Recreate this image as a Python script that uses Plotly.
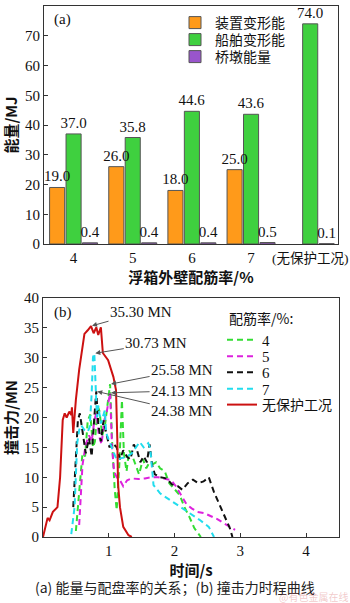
import plotly.graph_objects as go
import numpy as np

# ---------------- data (a) ----------------
categories = ["4", "5", "6", "7", "(无保护工况)"]
device_energy = [19.0, 26.0, 18.0, 25.0, None]
ship_energy = [37.0, 35.8, 44.6, 43.6, 74.0]
pier_energy = [0.4, 0.4, 0.4, 0.5, 0.1]

# ---------------- data (b) ----------------
t_red = [0, 0.05, 0.07, 0.10, 0.15, 0.22, 0.26, 0.30, 0.33, 0.36, 0.40, 0.43, 0.44, 0.46, 0.50,
         0.55, 0.61, 0.63, 0.68, 0.73, 0.77, 0.81, 0.84, 0.88, 0.91, 0.99, 1.07, 1.11, 1.13,
         1.14, 1.17, 1.22, 1.30, 1.35]
f_red = [0, 2.0, 3.2, 2.8, 4.2, 5.0, 10.0, 19.6, 20.7, 20.0, 21.0, 20.4, 21.7, 17.4, 23.0,
         28.0, 32.4, 34.0, 34.6, 35.3, 34.1, 35.1, 33.8, 35.1, 30.8, 29.6, 26.8, 24.6, 16.2,
         9.0, 5.0, 1.7, 0.3, 0]

t_cyan = [0.43, 0.48, 0.52, 0.55, 0.58, 0.63, 0.68, 0.71, 0.74, 0.76, 0.78, 0.80, 0.82, 0.84,
          0.88, 0.94, 0.96, 1.02, 1.07, 1.12, 1.19, 1.27, 1.35, 1.42, 1.47, 1.53, 1.60, 1.63,
          1.65, 1.68, 1.78, 1.93, 2.09, 2.24, 2.39, 2.52, 2.60]
f_cyan = [0.5, 5.0, 15.7, 17.9, 18.7, 17.9, 17.6, 18.4, 24.0, 30.1, 30.73, 24.0, 20.0, 22.0,
          19.0, 21.2, 17.4, 15.7, 14.2, 12.9, 13.2, 13.4, 14.0, 15.0, 15.9, 15.0, 15.7, 14.9,
          11.7, 8.7, 7.3, 6.2, 5.0, 4.0, 2.8, 1.7, 0]

t_black = [0.46, 0.50, 0.53, 0.56, 0.60, 0.65, 0.70, 0.74, 0.78, 0.81, 0.84, 0.88, 0.92, 0.97,
           1.01, 1.06, 1.12, 1.17, 1.22, 1.28, 1.33, 1.38, 1.43, 1.48, 1.53, 1.58, 1.62, 1.66,
           1.70, 1.78, 1.88, 1.96, 2.05, 2.12, 2.20, 2.28, 2.36, 2.44, 2.52, 2.60, 2.68, 2.76,
           2.84, 2.88]
f_black = [5.0, 14.0, 19.5, 20.7, 18.0, 14.0, 16.5, 13.5, 20.0, 24.38, 19.0, 16.0, 19.5, 17.0,
           15.0, 15.7, 15.0, 13.0, 14.5, 13.4, 13.0, 15.5, 14.5, 12.5, 13.5, 12.5, 15.5, 12.0,
           10.5, 10.0, 9.8, 8.8, 8.5, 7.9, 9.0, 9.6, 9.0, 9.3, 10.0, 7.5, 5.5, 3.5, 1.5, 0]

t_green = [0.50, 0.55, 0.60, 0.64, 0.68, 0.72, 0.76, 0.79, 0.83, 0.86, 0.90, 0.94, 0.98, 1.02,
           1.05, 1.09, 1.12, 1.16, 1.20, 1.23, 1.27, 1.31, 1.36, 1.41, 1.46, 1.52, 1.57, 1.62,
           1.67, 1.72, 1.78, 1.85, 1.92, 2.00, 2.08, 2.15, 2.22, 2.30, 2.36, 2.40]
f_green = [1.0, 8.0, 14.0, 13.5, 19.5, 20.5, 15.0, 16.0, 22.0, 21.0, 17.0, 18.5, 22.0, 25.58,
           16.0, 8.0, 4.5, 12.0, 22.9, 14.0, 11.0, 14.5, 13.5, 12.0, 10.5, 13.0, 11.5, 12.5,
           12.2, 12.5, 11.5, 11.0, 9.0, 8.0, 7.0, 5.0, 3.5, 1.5, 0.5, 0]

t_mag = [0.55, 0.60, 0.65, 0.70, 0.74, 0.78, 0.81, 0.85, 0.89, 0.93, 0.97, 1.02, 1.05, 1.08,
         1.12, 1.17, 1.22, 1.28, 1.35, 1.45, 1.55, 1.65, 1.75, 1.85, 1.95, 2.02, 2.10, 2.18,
         2.26, 2.35, 2.45, 2.55, 2.65, 2.75, 2.85, 2.92]
f_mag = [2.0, 12.0, 15.5, 17.0, 16.0, 19.5, 20.7, 17.0, 15.5, 19.5, 21.0, 24.13, 15.0, 11.0,
         10.0, 9.5, 8.5, 9.5, 9.8, 9.7, 9.8, 10.0, 10.0, 9.8, 9.5, 8.5, 7.0, 5.5, 4.8, 4.2,
         4.0, 3.5, 3.0, 2.3, 1.7, 1.2]

SERIF = "Liberation Serif, 'Times New Roman', 'Noto Sans CJK SC', serif"
CJK = "'Noto Sans CJK SC', 'Liberation Serif', sans-serif"

fig = go.Figure()

# bar geometry within each category (category width = 1)
BAR_W = 0.255
SLOT = 0.278
bar_line = dict(color="#555555", width=1)
bar_specs = [
    ("装置变形能", device_energy, "#FF9A1A", -1),
    ("船舶变形能", ship_energy, "#3FD03F", 0),
    ("桥墩能量", pier_energy, "#9955CC", 1),
]
legend_top_y = [23, 40, 57]
for name, vals, col, k in bar_specs:
    lg = "legend" if k == -1 else ("legend2" if k == 0 else "legend3")
    fig.add_trace(go.Bar(x=categories, y=vals, name=name,
                         width=BAR_W, offset=k*SLOT - BAR_W/2,
                         marker=dict(color=col, line=bar_line),
                         xaxis="x", yaxis="y", legend=lg, hoverinfo="skip"))
# value labels drawn above all bars
for name, vals, col, k in bar_specs:
    fig.add_trace(go.Bar(x=categories, y=vals, showlegend=False,
                         width=BAR_W, offset=k*SLOT - BAR_W/2,
                         marker=dict(color="rgba(0,0,0,0)", line=dict(width=0)),
                         text=[None if v is None else f"{v:.1f}" for v in vals],
                         textposition="outside", cliponaxis=False, constraintext="none",
                         textfont=dict(family=SERIF, size=15, color="#111"),
                         xaxis="x", yaxis="y", hoverinfo="skip"))

dash = "6px,4px"
series = [
    ("4", t_green, f_green, "#33DD33", dash, 2),
    ("5", t_mag, f_mag, "#DD22DD", dash, 2),
    ("6", t_black, f_black, "#111111", dash, 2),
    ("7", t_cyan, f_cyan, "#22DDEE", dash, 2),
    ("无保护工况", t_red, f_red, "#CC1111", "solid", 2),
]
legend_bot_y = [340, 356.5, 372.5, 389, 405]
for i, (name, tx, fy, col, dsh, w) in enumerate(series):
    fig.add_trace(go.Scatter(x=tx, y=fy, mode="lines", name=name,
                             line=dict(color=col, dash=dsh, width=w),
                             xaxis="x2", yaxis="y2", legend=f"legend{4+i}"))

axis_common = dict(showline=True, linecolor="#333", linewidth=1, mirror=True,
                   ticks="inside", ticklen=4, tickcolor="#333", showgrid=False,
                   zeroline=False, automargin=False,
                   tickfont=dict(family=SERIF, size=15, color="#111"))

legends = {}
for i, ly in enumerate(legend_top_y):
    key = "legend" if i == 0 else f"legend{i+1}"
    legends[key] = dict(x=175/350, y=1-ly/603, xanchor="left", yanchor="middle",
                        bgcolor="rgba(0,0,0,0)", font=dict(family=CJK, size=14, color="#111"))
for i, ly in enumerate(legend_bot_y):
    legends[f"legend{4+i}"] = dict(x=222/350, y=1-ly/603, xanchor="left", yanchor="middle",
                                   bgcolor="rgba(0,0,0,0)",
                                   font=dict(family=SERIF if i < 4 else CJK,
                                             size=15 if i < 4 else 14, color="#111"))

tick_text = [c if i < len(categories) - 1 else f'<span style="font-size:13.5px">{c}</span>'
             for i, c in enumerate(categories)]

fig.update_layout(
    width=350, height=603,
    margin=dict(l=0, r=0, t=0, b=0, autoexpand=False),
    paper_bgcolor="white", plot_bgcolor="white",
    barmode="overlay",
    xaxis=dict(domain=[44/350, 338/350], anchor="y", type="category",
               range=[-0.5, 4.47], ticks="",
               tickmode="array", tickvals=categories, ticktext=tick_text,
               title=dict(text="<b>浮箱外壁配筋率/%</b>", font=dict(family=CJK, size=15, color="#111"), standoff=4),
               **{k: v for k, v in axis_common.items() if k != "ticks"}),
    yaxis=dict(domain=[1-244/603, 1-6/603], anchor="x", range=[0, 80], dtick=10,
               title=dict(text="<b>能量/MJ</b>", font=dict(family=CJK, size=15, color="#111"), standoff=6),
               **axis_common),
    xaxis2=dict(domain=[43/350, 339/350], anchor="y2", range=[0, 4.5],
                tickvals=[1, 2, 3, 4],
                title=dict(text="<b>时间/s</b>", font=dict(family=CJK, size=15, color="#111"), standoff=0),
                **axis_common),
    yaxis2=dict(domain=[1-537/603, 1-298/603], anchor="x2", range=[0, 40], dtick=5,
                title=dict(text="<b>撞击力/MN</b>", font=dict(family=CJK, size=15, color="#111"), standoff=6),
                **axis_common),
    showlegend=True,
    **legends,
)

annotations = [
    dict(text="(a)", x=52/350, y=1-20/603, xref="paper", yref="paper", xanchor="left",
         yanchor="middle", showarrow=False, font=dict(family=SERIF, size=15, color="#111")),
    dict(text="(b)", x=52/350, y=1-312/603, xref="paper", yref="paper", xanchor="left",
         yanchor="middle", showarrow=False, font=dict(family=SERIF, size=15, color="#111")),
    dict(text="配筋率/%:", x=227/350, y=1-318/603, xref="paper", yref="paper", xanchor="left",
         yanchor="middle", showarrow=False, font=dict(family=CJK, size=14, color="#111")),
    dict(text="(a) 能量与配盘率的关系；(b) 撞击力时程曲线", x=0.5, y=1-587/603,
         xref="paper", yref="paper", xanchor="center", yanchor="middle", showarrow=False,
         font=dict(family=CJK, size=14, color="#222")),
    dict(text="@有色金属在线", x=1.0, y=1-596/603, xref="paper", yref="paper",
         xanchor="right", yanchor="middle", showarrow=False,
         font=dict(family=CJK, size=10, color="rgba(220,120,120,0.40)")),
]

def peak(tx, fy):
    i = int(np.argmax(fy))
    return tx[i], fy[i]

callouts = [
    (t_red, f_red, "35.30 MN", 50, -14),
    (t_cyan, f_cyan, "30.73 MN", 62, -10),
    (t_green, f_green, "25.58 MN", 72, -14),
    (t_mag, f_mag, "24.13 MN", 72, -2),
    (t_black, f_black, "24.38 MN", 86, 20),
]
for tx, fy, label, ax, ay in callouts:
    px, py = peak(tx, fy)
    annotations.append(dict(x=px, y=py, xref="x2", yref="y2", text=label,
                            showarrow=True, ax=ax, ay=ay, arrowhead=2, arrowsize=1,
                            arrowwidth=1, arrowcolor="#555", standoff=1,
                            font=dict(family=SERIF, size=15, color="#111")))

fig.update_layout(annotations=annotations)
fig.write_html("out.html")
